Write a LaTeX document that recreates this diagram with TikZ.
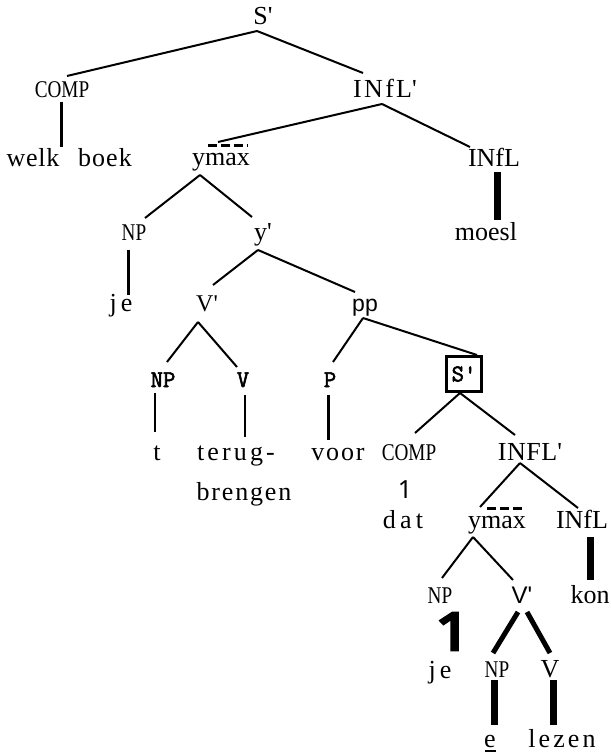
\documentclass[tikz,border=0pt]{standalone}
\usepackage{fontspec}
\usepackage{graphicx}
\setmainfont{Liberation Serif}
\newfontfamily\sansf{Liberation Sans}
\newfontfamily\onef{Noto Sans}
\newfontfamily\onebf{Noto Sans}[FakeBold=5]
\newfontfamily\ttbf{Latin Modern Mono}[FakeBold=2.5]
\newcommand\rmf{\fontsize{26}{30}\selectfont}
\newcommand\lsp[2]{{\addfontfeature{LetterSpace=#1}#2}}
\newcommand\cnd[1]{\scalebox{0.8}[1]{\fontsize{24}{28}\selectfont #1}}
\newcommand\ttb{\ttbf\fontsize{24}{28}\selectfont}
\tikzset{
  lab/.style={anchor=base, inner sep=0pt, outer sep=0pt, font=\rmf},
  br/.style={line width=2pt},
  bar3/.style={line width=3pt},
  bar5/.style={line width=5pt},
  bar7/.style={line width=7pt},
  thinbar/.style={line width=1.5pt},
  ovl/.style={line width=3pt, dash pattern=on 9pt off 4pt},
}
\begin{document}
\begin{tikzpicture}[x=1pt,y=-1pt]
\useasboundingbox (0,0) rectangle (610,754);
\fill[white] (0,0) rectangle (610,754);
% nodes
\node[lab] (S1) at (263,25) {\lsp{15}{S\textquotesingle}};
\node[lab] (COMPa) at (62,98) {\cnd{COMP}};
\node[lab] (INFLpa) at (385,98) {\lsp{9}{INfL\textquotesingle}};
\node[lab] (welk) at (33,167) {\lsp{3}{welk}};
\node[lab] (boek) at (105,167) {\lsp{4}{boek}};
\node[lab] (ymaxa) at (221,166) {ymax};
\node[lab] (INFLa) at (494,167) {INfL};
\node[lab] (NPa) at (134,240) {\cnd{NP}};
\node[lab] (ypa) at (263,240) {\lsp{20}{y\textquotesingle}};
\node[lab] (moesl) at (486,240) {moesl};
\node[lab] (jea) at (121,311) {\lsp{15}{je}};
\node[lab,font=\fontsize{24}{28}\selectfont] (Vpa) at (207,311) {V\textquotesingle};
\node[lab,font=\sansf\fontsize{23}{26}\selectfont] (ppa) at (365,311) {pp};
\node[lab,font=\ttb] (NPb) at (163,387) {NP};
\node[lab,font=\ttb] (Vb) at (243,387) {V};
\node[lab,font=\ttb] (Pb) at (330,387) {P};
\node[font=\ttb, draw, line width=3pt, minimum width=35pt, minimum height=35pt, inner sep=0pt] (Sb) at (464,374) {S\textquotesingle};
\node[lab] (t) at (157,460) {t};
\node[lab] (terug) at (236,460) {\lsp{12}{terug-}};
\node[lab] (voor) at (338,460) {\lsp{7}{voor}};
\node[lab] (COMPb) at (409,460) {\cnd{COMP}};
\node[lab] (INFLpb) at (530,460) {\lsp{2}{INFL\textquotesingle}};
\node[lab] (brengen) at (244,500) {\lsp{7}{brengen}};
\node[lab,font=\onef\fontsize{25}{30}\selectfont] (onea) at (405,498) {1};
\node[lab] (dat) at (403,528) {\lsp{16}{dat}};
\node[lab] (ymaxb) at (497,528) {ymax};
\node[lab] (INFLb) at (582,528) {INfL};
\node[lab] (NPc) at (440,603) {\cnd{NP}};
\node[lab,font=\sansf\fontsize{24}{28}\selectfont] (Vpc) at (522,603) {V\textquotesingle};
\node[lab] (kon) at (590,603) {kon};
\node[lab,font=\onebf\fontsize{52}{56}\selectfont] (oneb) at (453,650) {\scalebox{1.2}[1]{1}};
\node[lab] (jeb) at (440,678) {\lsp{15}{je}};
\node[lab] (NPd) at (497,677) {\cnd{NP}};
\node[lab] (Vd) at (550,677) {V};
\node[lab] (ee) at (490,747) {e};
\node[lab] (lezen) at (562,747) {\lsp{12}{lezen}};
% overlines and underline
\draw[ovl] ([shift={(-13,-20)}]ymaxa.base) -- ([shift={(27,-20)}]ymaxa.base);
\draw[ovl] ([shift={(-10,-20)}]ymaxb.base) -- ([shift={(28,-20)}]ymaxb.base);
\draw[line width=2.5pt] ([shift={(-5,4)}]ee.base) -- ([shift={(6,4)}]ee.base);
% connectors
\draw[br] ([shift={(-6,6)}]S1.base) -- ([shift={(5,-22)}]COMPa.base);
\draw[br] ([shift={(-6,6)}]S1.base) -- ([shift={(-22,-25)}]INFLpa.base);
\draw[bar3] ([shift={(-1,4)}]COMPa.base) -- ([shift={(28,-20)}]welk.base);
\draw[br] ([shift={(-3,6)}]INFLpa.base) -- ([shift={(-3,-24)}]ymaxa.base);
\draw[br] ([shift={(-3,6)}]INFLpa.base) -- ([shift={(-24,-20)}]INFLa.base);
\draw[bar7] ([shift={(3,5)}]INFLa.base) -- ([shift={(11,-20)}]moesl.base);
\draw[br] ([shift={(-21,9)}]ymaxa.base) -- ([shift={(11,-22)}]NPa.base);
\draw[br] ([shift={(-21,9)}]ymaxa.base) -- ([shift={(-11,-23)}]ypa.base);
\draw[bar3] ([shift={(-6,10)}]NPa.base) -- ([shift={(7,-16)}]jea.base);
\draw[br] ([shift={(-5,10)}]ypa.base) -- ([shift={(6,-26)}]Vpa.base);
\draw[br] ([shift={(-5,10)}]ypa.base) -- ([shift={(-10,-19)}]ppa.base);
\draw[br] ([shift={(-9,11)}]Vpa.base) -- ([shift={(4,-25)}]NPb.base);
\draw[br] ([shift={(-9,11)}]Vpa.base) -- ([shift={(-6,-20)}]Vb.base);
\draw[br] ([shift={(-2,7)}]ppa.base) -- ([shift={(3,-25)}]Pb.base);
\draw[br] ([shift={(-2,7)}]ppa.base) -- ([shift={(-6,0)}]Sb.north east);
\draw[thinbar] ([shift={(-8,6)}]NPb.base) -- ([shift={(-2,-28)}]t.base);
\draw[thinbar] ([shift={(2,8)}]Vb.base) -- ([shift={(9,-23)}]terug.base);
\draw[bar3] ([shift={(-2,8)}]Pb.base) -- ([shift={(-10,-20)}]voor.base);
\draw[br] ([shift={(-4,0)}]Sb.south) -- ([shift={(6,-27)}]COMPb.base);
\draw[br] ([shift={(-4,0)}]Sb.south) -- ([shift={(-15,-25)}]INFLpb.base);
\draw[br] ([shift={(-10,3)}]INFLpb.base) -- ([shift={(-17,-21)}]ymaxb.base);
\draw[br] ([shift={(-10,3)}]INFLpb.base) -- ([shift={(-4,-20)}]INFLb.base);
\draw[bar7] ([shift={(8,9)}]INFLb.base) -- ([shift={(0,-23)}]kon.base);
\draw[br] ([shift={(-24,9)}]ymaxb.base) -- ([shift={(2,-25)}]NPc.base);
\draw[br] ([shift={(-24,9)}]ymaxb.base) -- ([shift={(-9,-23)}]Vpc.base);
\draw[bar5] ([shift={(-4,9)}]Vpc.base) -- ([shift={(-4,-24)}]NPd.base);
\draw[bar5] ([shift={(5,9)}]Vpc.base) -- ([shift={(0,-24)}]Vd.base);
\draw[bar7] ([shift={(-3,3)}]NPd.base) -- ([shift={(4,-22)}]ee.base);
\draw[bar7] ([shift={(3,3)}]Vd.base) -- ([shift={(-9,-22)}]lezen.base);
\end{tikzpicture}
\end{document}
